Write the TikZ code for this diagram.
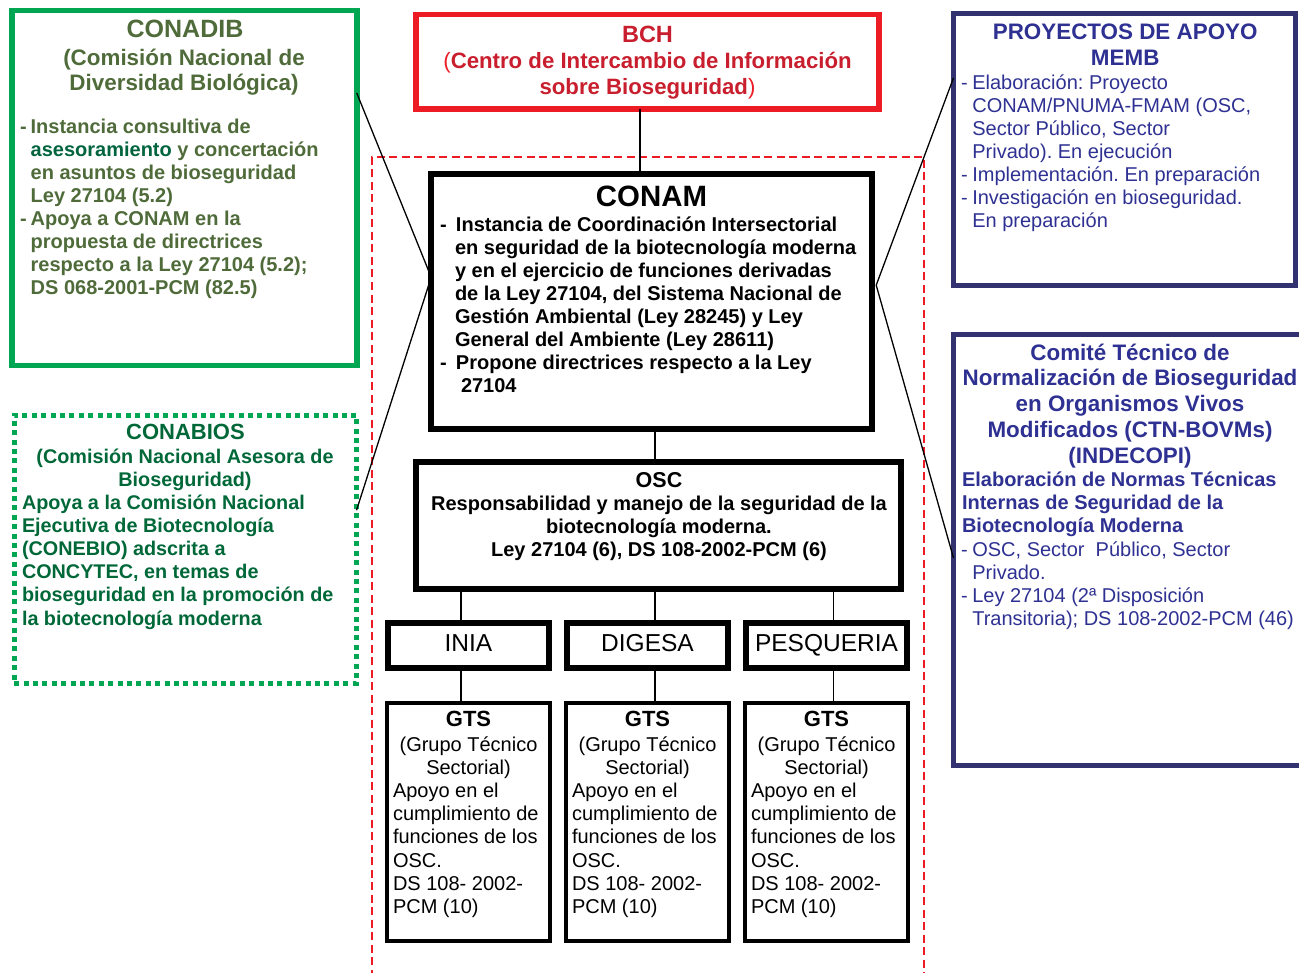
\documentclass[tikz,border=0pt]{standalone}
\usepackage{fontspec}
\setmainfont{Liberation Sans}
\usetikzlibrary{calc}
\frenchspacing
\definecolor{gbox}{RGB}{0,166,81}
\definecolor{conadibtxt}{RGB}{79,107,58}
\definecolor{asesor}{RGB}{0,100,62}
\definecolor{conabiostxt}{RGB}{0,104,56}
\definecolor{bchbox}{RGB}{237,28,36}
\definecolor{bchtxt}{RGB}{200,30,45}
\definecolor{navybox}{RGB}{50,50,112}
\definecolor{navytxt}{RGB}{46,49,146}
\newcommand{\myfs}[2]{\fontsize{#1bp}{#2bp}\selectfont}
\newcommand{\mydash}[1]{\makebox[#1bp][l]{-}}
\newcommand{\myind}[1]{\hspace*{#1bp}}
\begin{document}
\begin{tikzpicture}[x=1bp,y=-1bp,
  box/.style={draw, inner sep=0, outer sep=0},
  txt/.style={inner sep=0, outer sep=0},
  conn/.style={draw=black, line width=1.3bp},
  blackbox/.style={box, draw=black, line width=6bp},
  gtsbox/.style={box, draw=black, line width=4.3bp, minimum width=163bp, minimum height=238bp},
  orgbox/.style={box, draw=black, line width=6bp, minimum width=161bp, minimum height=45bp},
  reddash/.style={draw=bchbox, line width=1.5bp, dash pattern=on 8bp off 4.5bp}]
\useasboundingbox (0,0) rectangle (1299,972);

% red dashed frame
\draw[reddash] (372,990) -- (372,157) -- (924,157) -- (924,990);

% ---------- boxes ----------
\node[box, draw=gbox, line width=5.5bp, minimum width=344.5bp, minimum height=355bp] (conadib) at (184.5,188) {};
\node[box, draw=gbox, line width=5bp, dash pattern=on 5bp off 4.4bp, minimum width=342.3bp, minimum height=268.5bp] (conabios) at (185.35,549.25) {};
\node[box, draw=bchbox, line width=5.7bp, minimum width=462.7bp, minimum height=94.3bp] (bch) at (647.6,61.6) {};
\node[blackbox, minimum width=441bp, minimum height=255bp] (conam) at (651.7,301.2) {};
\node[blackbox, minimum width=485bp, minimum height=127bp] (osc) at (658.5,525.5) {};
\node[orgbox] (inia) at (468.5,645.5) {};
\node[orgbox] (digesa) at (647.5,645.5) {};
\node[orgbox] (pesq) at (826,645.5) {};
\node[gtsbox] (gtsa) at (468.5,822) {};
\node[gtsbox] (gtsb) at (647.5,822) {};
\node[gtsbox] (gtsc) at (826.5,822) {};
\node[box, draw=navybox, line width=5bp, minimum width=342bp, minimum height=271.7bp] (proy) at (1124.5,149.85) {};
\node[box, draw=navybox, line width=5bp, minimum width=351.5bp, minimum height=431bp] (comite) at (1129.25,550) {};

% ---------- connectors ----------
\coordinate (cb) at ([xshift=-7.6bp]bch.south);
\draw[conn] (cb) -- (cb |- conam.north);
\coordinate (cc) at ([xshift=3.3bp]conam.south);
\draw[conn] (cc) -- (cc |- osc.north);
\coordinate (ci) at ([xshift=-7.5bp]inia.north);
\coordinate (cd) at ([xshift=7.5bp]digesa.north);
\coordinate (cp) at ([xshift=7.5bp]pesq.north);
\draw[conn] (ci) -- (ci |- osc.south);
\draw[conn] (cd) -- (cd |- osc.south);
\draw[conn] (cp) -- (cp |- osc.south);
\coordinate (gi) at ([xshift=-7.5bp]gtsa.north);
\coordinate (gd) at ([xshift=7.5bp]gtsb.north);
\coordinate (gp) at ([xshift=7bp]gtsc.north);
\draw[conn] (gi) -- (gi |- inia.south);
\draw[conn] (gd) -- (gd |- digesa.south);
\draw[conn] (gp) -- (gp |- pesq.south);
\draw[conn] ([yshift=95bp]conadib.east) -- ([yshift=24bp]conam.west) -- ([yshift=39bp]conabios.east);
\draw[conn] ([yshift=72bp]proy.west) -- ([xshift=4bp,yshift=16bp]conam.east) -- ([yshift=-8bp]comite.west);

% ---------- CONADIB ----------
\node[txt, anchor=base, text=conadibtxt] (conadibt) at (185,37.5) {\myfs{25}{26}\bfseries CONADIB};
\node[txt, anchor=base, text=conadibtxt] (conadibs) at (184,65) {\parbox[t]{330bp}{\centering\myfs{22.4}{25.5}\bfseries (Comisión Nacional de\\Diversidad Biológica)}};
\node[txt, anchor=base west, text=conadibtxt] (conadibb) at (20,133) {\parbox[t]{335bp}{\raggedright\myfs{20}{23}\bfseries
\mydash{10.7}Instancia consultiva de\\
\myind{10.7}{\color{asesor}asesoramiento} y concertación\\
\myind{10.7}en asuntos de bioseguridad\\
\myind{10.7}Ley 27104 (5.2)\\
\mydash{10.7}Apoya a CONAM en la\\
\myind{10.7}propuesta de directrices\\
\myind{10.7}respecto a la Ley 27104 (5.2);\\
\myind{10.7}DS 068-2001-PCM (82.5)}};

% ---------- CONABIOS ----------
\node[txt, anchor=base, text=conabiostxt] (conabiost) at (185.5,439.3) {\myfs{22}{24}\bfseries CONABIOS};
\node[txt, anchor=base, text=conabiostxt] (conabioss) at (185,463) {\parbox[t]{335bp}{\centering\myfs{19.8}{23}\bfseries (Comisión Nacional Asesora de\\Bioseguridad)}};
\node[txt, anchor=base west, text=conabiostxt] (conabiosb) at (22,509) {\parbox[t]{335bp}{\raggedright\myfs{19.8}{23.2}\bfseries
Apoya a la Comisión Nacional\\
Ejecutiva de Biotecnología\\
(CONEBIO) adscrita a\\
CONCYTEC, en temas de\\
bioseguridad en la promoción de\\
la biotecnología moderna}};

% ---------- BCH ----------
\node[txt, anchor=base, text=bchtxt] (bcht) at (647.5,42.7) {\myfs{23.5}{26}\bfseries BCH};
\node[txt, anchor=base, text=bchtxt] (bchs) at (647.5,68.3) {\parbox[t]{455bp}{\centering\myfs{22.2}{25.7}\bfseries\leavevmode{\mdseries\color{bchbox}(}Centro de Intercambio de Información\\sobre Bioseguridad{\mdseries\color{bchbox})}}};

% ---------- CONAM ----------
\node[txt, anchor=base] (conamt) at (651.5,206) {\myfs{29.4}{30}\bfseries CONAM};
\node[txt, anchor=base west] (conamb) at (440,231.7) {\parbox[t]{425bp}{\raggedright\myfs{20}{23}\bfseries
\mydash{16}Instancia de Coordinación Intersectorial\\
\myind{15}en seguridad de la biotecnología moderna\\
\myind{15}y en el ejercicio de funciones derivadas\\
\myind{15}de la Ley 27104, del Sistema Nacional de\\
\myind{15}Gestión Ambiental (Ley 28245) y Ley\\
\myind{15}General del Ambiente (Ley 28611)\\
\mydash{16}Propone directrices respecto a la Ley\\
\myind{21}27104}};

% ---------- OSC ----------
\node[txt, anchor=base] (osct) at (659,487) {\parbox[t]{475bp}{\centering\myfs{20}{23.3}\bfseries
{\myfs{21.5}{23.3}OSC}\\
Responsabilidad y manejo de la seguridad de la\\
biotecnología moderna.\\
Ley 27104 (6), DS 108-2002-PCM (6)}};

% ---------- INIA / DIGESA / PESQUERIA ----------
\node[txt, anchor=base] (iniat) at (468.5,651) {\myfs{24.5}{26}INIA};
\node[txt, anchor=base] (digesat) at (647.5,651) {\myfs{24.5}{26}DIGESA};
\node[txt, anchor=base] (pesqt) at (826.5,651) {\myfs{24.5}{26}PESQUERIA};

% ---------- GTS ----------
\foreach \n/\cx in {a/468.5, b/647.5, c/826.5}{
  \node[txt, anchor=base] (gtst\n) at (\cx,726) {\myfs{22}{24}\bfseries GTS};
  \node[txt, anchor=base] (gtss\n) at (\cx,751.5) {\parbox[t]{160bp}{\centering\myfs{20}{23.1}(Grupo Técnico\\Sectorial)}};
  \node[txt, anchor=base west] (gtsb\n) at (\cx-75.5,797.7) {\parbox[t]{160bp}{\raggedright\myfs{20}{23.1}Apoyo en el\\cumplimiento de\\funciones de los\\OSC.\\DS 108- 2002-\\PCM (10)}};
}

% ---------- PROYECTOS ----------
\node[txt, anchor=base, text=navytxt] (proyt) at (1125.2,39.3) {\parbox[t]{330bp}{\centering\myfs{22.4}{25.7}\bfseries PROYECTOS DE APOYO\\MEMB}};
\node[txt, anchor=base west, text=navytxt] (proyb) at (961,89.5) {\parbox[t]{330bp}{\raggedright\myfs{20}{23}
\mydash{11.3}Elaboración: Proyecto\\
\myind{11.3}CONAM/PNUMA-FMAM (OSC,\\
\myind{11.3}Sector Público, Sector\\
\myind{11.3}Privado). En ejecución\\
\mydash{11.3}Implementación. En preparación\\
\mydash{11.3}Investigación en bioseguridad.\\
\myind{11.3}En preparación}};

% ---------- Comite ----------
\node[txt, anchor=base, text=navytxt] (comitet) at (1130,360) {\parbox[t]{345bp}{\centering\myfs{22.4}{25.8}\bfseries
Comité Técnico de\\
Normalización de Bioseguridad\\
en Organismos Vivos\\
Modificados (CTN-BOVMs)\\
(INDECOPI)}};
\node[txt, anchor=base west, text=navytxt] (comiteb) at (962,486.7) {\parbox[t]{335bp}{\raggedright\myfs{20}{23}\bfseries
Elaboración de Normas Técnicas\\
Internas de Seguridad de la\\
Biotecnología Moderna}};
\node[txt, anchor=base west, text=navytxt] (comitec) at (961,556) {\parbox[t]{340bp}{\raggedright\myfs{20}{23.2}
\mydash{11.3}OSC, Sector\ \ Público, Sector\\
\myind{11.3}Privado.\\
\mydash{11.3}Ley 27104 (2ª Disposición\\
\myind{11.3}Transitoria); DS 108-2002-PCM (46)}};
\end{tikzpicture}
\end{document}
